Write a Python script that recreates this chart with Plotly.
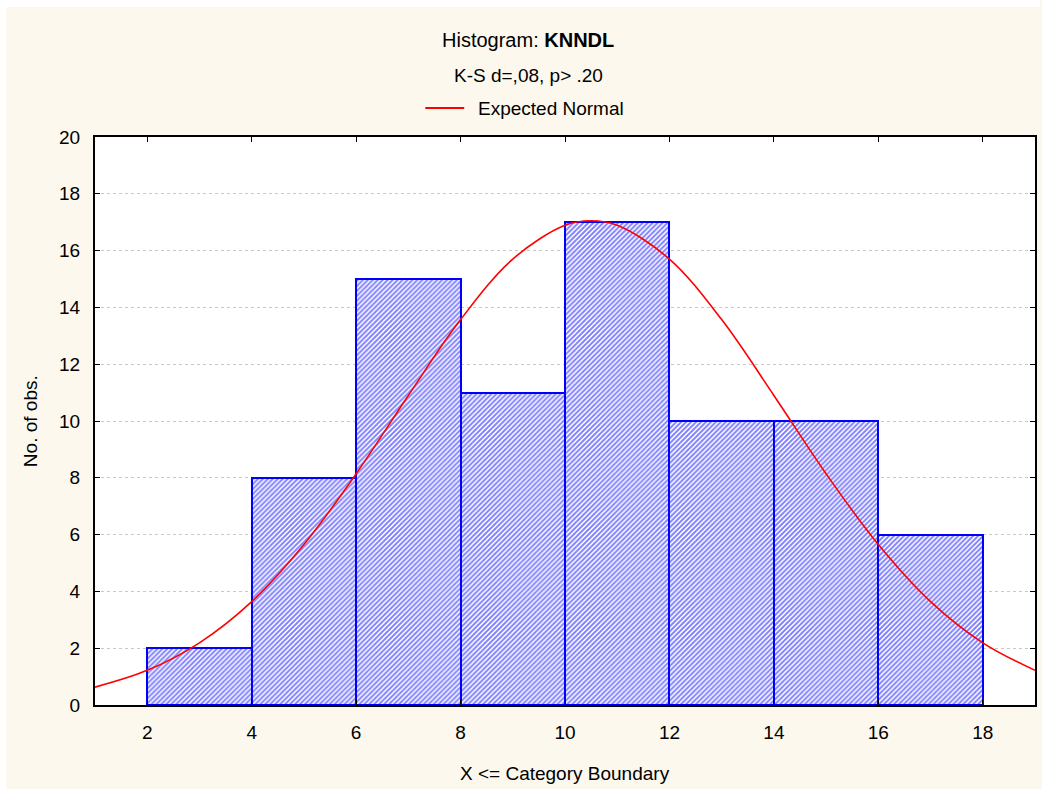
import plotly.graph_objects as go

# ---- data ----
bin_left = [2, 4, 6, 8, 10, 12, 14, 16]
bin_right = [4, 6, 8, 10, 12, 14, 16, 18]
counts = [2, 8, 15, 11, 17, 10, 10, 6]

curve_x = [1, 2, 3, 4, 5, 6, 7, 8, 9, 10, 10.5, 11, 12, 13, 14, 15, 16, 17, 18, 19]
curve_y = [0.63, 1.22, 2.19, 3.64, 5.65, 8.14, 10.90, 13.57, 15.70, 16.89, 17.05,
           16.89, 15.70, 13.57, 10.90, 8.14, 5.65, 3.64, 2.19, 1.22]

x_ticks = [2, 4, 6, 8, 10, 12, 14, 16, 18]
y_ticks = [0, 2, 4, 6, 8, 10, 12, 14, 16, 18, 20]

title_main = "Histogram: <b>KNNDL</b>"
subtitle = "K-S d=,08, p> .20"
legend_label = "Expected Normal"
x_title = "X <= Category Boundary"
y_title = "No. of obs."

# ---- layout geometry ----
W, H = 1042, 789
L, R, T, B = 95, 1037, 137, 705
pw, ph = R - L, B - T

def px(x):
    return (x - L) / pw

def py(y):
    return (B - y) / ph

FONT = "Liberation Sans, Arial, sans-serif"
FS = 19
centers = [(a + b) / 2 for a, b in zip(bin_left, bin_right)]
widths = [b - a for a, b in zip(bin_left, bin_right)]

fig = go.Figure()
fig.add_trace(go.Bar(
    x=centers, y=counts, width=widths,
    marker=dict(
        color="white",
        line=dict(color="#0000FF", width=2),
        pattern=dict(shape="/", fgcolor="#0000FF", bgcolor="white", size=3.5, solidity=0.55),
    ),
    showlegend=False, hoverinfo="skip",
))
fig.add_trace(go.Scatter(
    x=curve_x, y=curve_y, mode="lines", name=legend_label,
    line=dict(color="#FF0000", width=1.6, shape="spline"),
    showlegend=False,
))

axis_common = dict(
    showline=True, linecolor="black", linewidth=2, mirror="ticks",
    ticks="inside", ticklen=5, tickwidth=1, tickcolor="black",
    tickfont=dict(family=FONT, size=FS, color="black"),
    zeroline=False,
)
fig.update_xaxes(range=[1, 19], tickvals=x_ticks, showgrid=False,
                 ticklabelstandoff=9, **axis_common)
fig.update_yaxes(range=[0, 20], tickvals=y_ticks, showgrid=True,
                 gridcolor="#C8C8C8", griddash="dot", gridwidth=1,
                 ticklabelstandoff=9, **axis_common)

annotations = [
    dict(text=title_main, x=px(529), y=py(40), font=dict(size=20)),
    dict(text=subtitle, x=px(529), y=py(75), font=dict(size=FS)),
    dict(text=legend_label, x=px(477), y=py(108), xanchor="left", font=dict(size=FS)),
    dict(text=x_title, x=px(566), y=py(773), font=dict(size=FS)),
    dict(text=y_title, x=px(30), y=py(421), textangle=-90, font=dict(size=FS)),
]
for a in annotations:
    a.setdefault("xanchor", "center")
    a.update(xref="paper", yref="paper", yanchor="middle", showarrow=False)
    a["font"].update(family=FONT, color="black")

shapes = [
    # legend line
    dict(type="line", xref="paper", yref="paper", x0=px(426), x1=px(465),
         y0=py(108), y1=py(108), line=dict(color="#FF0000", width=2)),
    # white frame strips at left and top
    dict(type="rect", xref="paper", yref="paper", x0=px(0), x1=px(6), y0=py(H), y1=py(0),
         fillcolor="white", line=dict(width=0), layer="below"),
    dict(type="rect", xref="paper", yref="paper", x0=px(0), x1=px(W), y0=py(7), y1=py(0),
         fillcolor="white", line=dict(width=0), layer="below"),
]

fig.update_layout(
    width=W, height=H,
    margin=dict(l=L, r=W - R, t=T, b=H - B, pad=0),
    paper_bgcolor="#FDF8EE", plot_bgcolor="white",
    bargap=0, showlegend=False,
    annotations=annotations, shapes=shapes,
    font=dict(family=FONT, color="black"),
)

fig.write_html("out.html", config={"displayModeBar": False})

# remove default page margin so the figure fills the window exactly
with open("out.html", "r", encoding="utf-8") as f:
    html = f.read()
html = html.replace("<head>", "<head><style>html,body{margin:0;padding:0;overflow:hidden;}</style>", 1)
with open("out.html", "w", encoding="utf-8") as f:
    f.write(html)
